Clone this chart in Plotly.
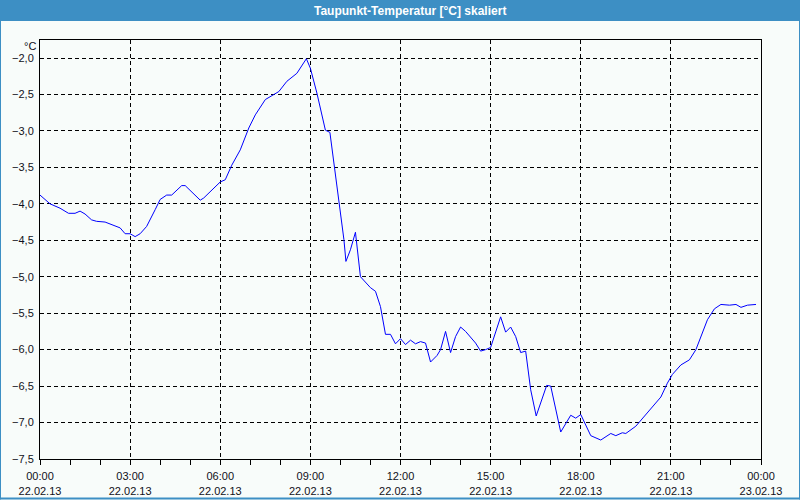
import plotly.graph_objects as go

# ---- data ----
times = ["00:00","00:20","00:40","00:57","01:10","01:20","01:30","01:43","01:53","02:10",
         "02:40","02:50","03:00","03:10","03:20","03:33","03:50","04:00","04:13","04:23",
         "04:43","04:50","05:20","05:27","06:00","06:10","06:23","06:40","06:57","07:10",
         "07:30","07:40","07:57","08:13","08:33","08:52","09:00","09:13","09:30","09:39",
         "09:47","09:57","10:07","10:11","10:20","10:30","10:40","11:00","11:10","11:20",
         "11:30","11:40","11:50","12:00","12:10","12:20","12:30","12:40","12:50","13:00",
         "13:13","13:20","13:30","13:40","13:50","14:00","14:10","14:30","14:40","14:50",
         "15:00","15:20","15:30","15:40","15:50","16:00","16:10","16:20","16:31","16:52",
         "17:00","17:20","17:40","17:50","18:00","18:20","18:40","19:00","19:10","19:23",
         "19:30","19:50","20:07","20:23","20:40","20:53","21:03","21:20","21:37","21:50",
         "22:00","22:13","22:27","22:40","22:57","23:10","23:20","23:33","23:50"]
values = [-3.88,-4.00,-4.06,-4.13,-4.13,-4.10,-4.14,-4.22,-4.24,-4.25,
          -4.33,-4.41,-4.41,-4.45,-4.41,-4.31,-4.08,-3.94,-3.88,-3.88,
          -3.75,-3.75,-3.95,-3.92,-3.70,-3.67,-3.47,-3.26,-2.96,-2.78,
          -2.57,-2.53,-2.46,-2.32,-2.21,-2.01,-2.14,-2.48,-2.99,-3.02,
          -3.44,-3.95,-4.49,-4.79,-4.63,-4.39,-5.00,-5.15,-5.20,-5.41,
          -5.79,-5.79,-5.92,-5.85,-5.93,-5.87,-5.92,-5.89,-5.91,-6.17,
          -6.08,-6.00,-5.75,-6.04,-5.82,-5.69,-5.75,-5.91,-6.02,-6.00,
          -5.97,-5.55,-5.76,-5.69,-5.82,-6.04,-6.02,-6.55,-6.91,-6.49,
          -6.50,-7.13,-6.90,-6.94,-6.89,-7.18,-7.24,-7.15,-7.18,-7.14,
          -7.15,-7.05,-6.91,-6.78,-6.65,-6.46,-6.34,-6.21,-6.14,-6.00,
          -5.82,-5.59,-5.44,-5.38,-5.39,-5.38,-5.42,-5.39,-5.38]
x_tickvals = ["2013-02-22 00:00","2013-02-22 03:00","2013-02-22 06:00","2013-02-22 09:00",
              "2013-02-22 12:00","2013-02-22 15:00","2013-02-22 18:00","2013-02-22 21:00",
              "2013-02-23 00:00"]
x_ticktext = ["00:00<br>22.02.13","03:00<br>22.02.13","06:00<br>22.02.13","09:00<br>22.02.13",
              "12:00<br>22.02.13","15:00<br>22.02.13","18:00<br>22.02.13","21:00<br>22.02.13",
              "00:00<br>23.02.13"]
y_tickvals = [-2.0,-2.5,-3.0,-3.5,-4.0,-4.5,-5.0,-5.5,-6.0,-6.5,-7.0,-7.5]
title_text = "Taupunkt-Temperatur [°C] skaliert"
unit_text = "°C"

x = ["2013-02-22 " + t for t in times]

W, H = 800, 500
ML, MR, MT, MB = 40, 39, 40, 41
PW, PH = W - ML - MR, H - MT - MB

def px(xp):
    return (xp - ML) / PW

def py(yp):
    return 1 - (yp - MT) / PH

BG = "#f8fcfa"
BLUE = "#3d8fc4"
FONT = "Liberation Sans"

fig = go.Figure()
fig.add_trace(go.Scatter(x=x, y=values, mode="lines",
                         line=dict(color="#0000ff", width=1), hoverinfo="skip"))

fig.update_layout(
    width=W, height=H,
    margin=dict(l=ML, r=MR, t=MT, b=MB, pad=0, autoexpand=False),
    paper_bgcolor=BG, plot_bgcolor=BG,
    showlegend=False,
    separators=",.",
    font=dict(family=FONT, size=11, color="#101020"),
    xaxis=dict(
        type="date", automargin=False,
        range=["2013-02-22 00:00", "2013-02-23 00:00"],
        tickvals=x_tickvals, ticktext=x_ticktext,
        ticks="outside", ticklen=5, tickcolor="black", tickwidth=1,
        minor=dict(dtick=3600000, ticks="outside", ticklen=5, tickcolor="black", showgrid=False),
        showgrid=True, gridcolor="black", gridwidth=1, griddash="4px,3px",
        showline=True, linecolor="black", linewidth=1, mirror=True,
        zeroline=False, tickfont=dict(size=11, family=FONT), ticklabelstandoff=2,
    ),
    yaxis=dict(
        range=[-7.5, -1.753], automargin=False,
        tickvals=y_tickvals, tickformat=".1f",
        ticks="", showgrid=True, gridcolor="black", gridwidth=1, griddash="4px,3px",
        showline=True, linecolor="black", linewidth=1, mirror=True,
        zeroline=False, tickfont=dict(size=11, family=FONT), ticklabelstandoff=3,
    ),
    shapes=[
        dict(type="rect", xref="paper", yref="paper", x0=px(0), x1=px(800), y0=py(0), y1=py(21),
             fillcolor=BLUE, line=dict(width=0), layer="above"),
        dict(type="line", xref="paper", yref="paper", x0=px(0.5), x1=px(0.5), y0=py(0), y1=py(499.5),
             line=dict(color=BLUE, width=1)),
        dict(type="line", xref="paper", yref="paper", x0=px(799.5), x1=px(799.5), y0=py(0), y1=py(499.5),
             line=dict(color=BLUE, width=1)),
        dict(type="line", xref="paper", yref="paper", x0=px(0), x1=px(800), y0=py(498.5), y1=py(498.5),
             line=dict(color=BLUE, width=2)),
    ],
    annotations=[
        dict(text=f"<b>{title_text}</b>", xref="paper", yref="paper", x=px(410), y=py(10.5),
             xanchor="center", yanchor="middle", showarrow=False,
             font=dict(family=FONT, size=12, color="white")),
        dict(text=unit_text, xref="paper", yref="paper", x=px(38), y=py(46),
             xanchor="right", yanchor="middle", showarrow=False,
             font=dict(family=FONT, size=11, color="#101020")),
    ],
)

fig.write_html("out.html")
